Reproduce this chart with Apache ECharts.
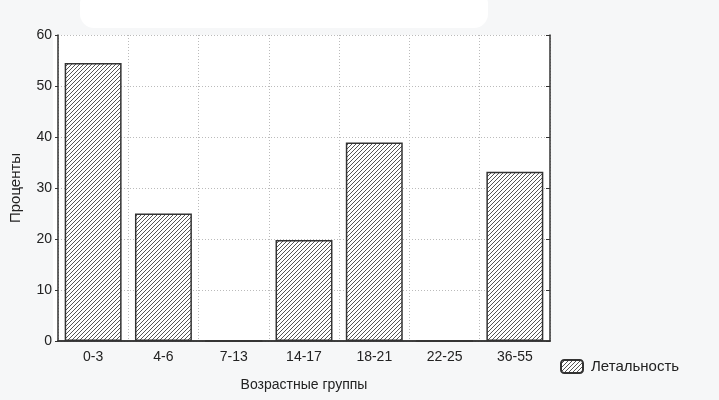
<!DOCTYPE html>
<html>
<head>
<meta charset="utf-8">
<script src="https://cdn.jsdelivr.net/npm/echarts@6/dist/echarts.min.js"></script>
<style>
html,body{margin:0;padding:0;background:#f6f7f8;}
#c{width:719px;height:400px;}
</style>
</head>
<body>
<div id="c"></div>
<script>
const categories = ['0-3', '4-6', '7-13', '14-17', '18-21', '22-25', '36-55'];
const lethality = [54.5, 25.0, 0, 19.8, 38.9, 0, 33.2];
const yTicks = [0, 10, 20, 30, 40, 50, 60];

function hatch() {
  const c = document.createElement('canvas');
  c.width = 4; c.height = 4;
  const g = c.getContext('2d');
  g.fillStyle = '#ffffff';
  g.fillRect(0, 0, 4, 4);
  g.strokeStyle = '#555555';
  g.lineWidth = 1;
  g.beginPath();
  g.moveTo(-1, 5); g.lineTo(5, -1);
  g.moveTo(-1, 1); g.lineTo(1, -1);
  g.moveTo(3, 5); g.lineTo(5, 3);
  g.stroke();
  return c;
}
const pat = { image: hatch(), repeat: 'repeat' };
const font = 'Liberation Sans, Arial, sans-serif';
const chart = echarts.init(document.getElementById('c'));
chart.setOption({
  backgroundColor: '#f6f7f8',
  animation: false,
  graphic: [
    { type: 'rect', shape: { x: 80, y: -10, width: 408, height: 38, r: 14 }, style: { fill: '#ffffff' }, z: -10 },
    { type: 'rect', shape: { x: 53, y: 35, width: 497, height: 306 }, style: { fill: '#ffffff' }, z: -10 }
  ],
  grid: { left: 53, right: 169, top: 35, bottom: 59 },
  legend: {
    data: ['Летальность'],
    left: 560, top: 359, padding: 0,
    itemWidth: 22, itemHeight: 13,
    itemGap: 8,
    textStyle: { fontFamily: font, fontSize: 15, color: '#222', padding: [0, 0, 0, 3] }
  },
  xAxis: [
    {
      type: 'category', data: categories, position: 'bottom',
      name: 'Возрастные группы', nameLocation: 'middle', nameGap: 37,
      nameTextStyle: { fontFamily: font, fontSize: 14, color: '#222' },
      axisLine: { lineStyle: { color: '#333', width: 1.5 } },
      axisTick: { inside: true, length: 4, lineStyle: { color: '#333' } },
      axisLabel: { fontFamily: font, fontSize: 14, color: '#222', margin: 9 },
      splitLine: { show: true, lineStyle: { color: '#bbb', type: [1, 2], width: 1 } }
    },
    {
      type: 'category', data: categories, position: 'top',
      axisLine: { lineStyle: { color: '#333', width: 1.5 } },
      axisTick: { inside: true, length: 4, lineStyle: { color: '#333' } },
      axisLabel: { show: false }
    }
  ],
  yAxis: [
    {
      type: 'value', min: 0, max: 60, interval: 10, position: 'left',
      name: 'Проценты', nameLocation: 'middle', nameGap: 35,
      nameTextStyle: { fontFamily: font, fontSize: 15, color: '#222' },
      axisLine: { show: true, lineStyle: { color: '#333', width: 1.5 } },
      axisTick: { show: true, length: 3, lineStyle: { color: '#333' } },
      axisLabel: { fontFamily: font, fontSize: 14, color: '#222', margin: 6,
        formatter: v => yTicks.includes(v) ? String(v) : '' },
      splitLine: { show: true, lineStyle: { color: '#bbb', type: [1, 2], width: 1 } }
    },
    {
      type: 'value', min: 0, max: 60, interval: 10, position: 'right',
      axisLine: { show: true, lineStyle: { color: '#333', width: 1.5 } },
      axisTick: { show: true, inside: true, length: 4, lineStyle: { color: '#333' } },
      axisLabel: { show: false },
      splitLine: { show: false }
    }
  ],
  series: [{
    name: 'Летальность', type: 'bar', data: lethality,
    barCategoryGap: '19%',
    itemStyle: { color: pat, borderColor: '#333', borderWidth: 1.5 }
  }]
});
</script>
</body>
</html>
